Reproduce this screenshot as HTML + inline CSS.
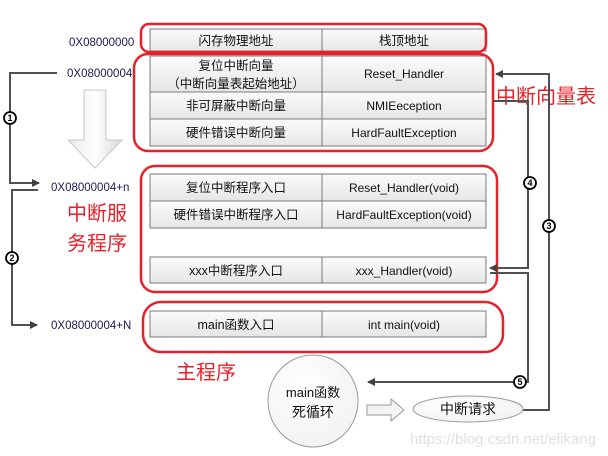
<!DOCTYPE html>
<html><head><meta charset="utf-8"><style>
body{margin:0;background:#fff;}
svg{display:block;font-family:"Liberation Sans","Noto Sans CJK SC",sans-serif;}
</style></head><body>
<svg width="608" height="456" viewBox="0 0 608 456">
<defs>
<linearGradient id="cell" x1="0" y1="0" x2="0" y2="1"><stop offset="0" stop-color="#fbfbfb"/><stop offset="1" stop-color="#e6e6e6"/></linearGradient>
<linearGradient id="arr" x1="0" y1="0" x2="1" y2="0"><stop offset="0" stop-color="#e8e8e8"/><stop offset="0.5" stop-color="#ffffff"/><stop offset="1" stop-color="#d8d8d8"/></linearGradient>
<radialGradient id="ell" cx="0.4" cy="0.35" r="0.8"><stop offset="0" stop-color="#ffffff"/><stop offset="1" stop-color="#f0f0f0"/></radialGradient>
<marker id="ah" markerWidth="8" markerHeight="8" refX="7" refY="4" orient="auto" markerUnits="userSpaceOnUse"><path d="M0,0 L8,4 L0,8 z" fill="#404040"/></marker>
</defs>
<g stroke="#7a7a7a" stroke-width="1" fill="url(#cell)">
<rect x="150" y="29" width="172" height="22"/><rect x="322" y="29" width="164" height="22"/>
<rect x="150" y="56" width="172" height="36"/><rect x="322" y="56" width="164" height="36"/>
<rect x="150" y="92" width="172" height="27"/><rect x="322" y="92" width="164" height="27"/>
<rect x="150" y="119" width="172" height="27"/><rect x="322" y="119" width="164" height="27"/>
<rect x="150" y="174" width="172" height="27"/><rect x="322" y="174" width="164" height="27"/>
<rect x="150" y="201" width="172" height="27"/><rect x="322" y="201" width="164" height="27"/>
<rect x="150" y="257" width="172" height="26"/><rect x="322" y="257" width="164" height="26"/>
<rect x="150" y="311" width="172" height="26"/><rect x="322" y="311" width="164" height="26"/>
</g>
<g font-size="12.5" fill="#111" text-anchor="middle">
<text x="236" y="45">闪存物理地址</text><text x="404" y="45">栈顶地址</text>
<text x="236" y="70">复位中断向量</text><text x="236" y="88">（中断向量表起始地址）</text>
<text x="404" y="78" font-size="12">Reset_Handler</text>
<text x="236" y="110">非可屏蔽中断向量</text><text x="404" y="110" font-size="12">NMIEeception</text>
<text x="236" y="137">硬件错误中断向量</text><text x="404" y="137" font-size="12">HardFaultException</text>
<text x="236" y="192">复位中断程序入口</text><text x="404" y="192" font-size="12">Reset_Handler(void)</text>
<text x="236" y="219">硬件错误中断程序入口</text><text x="404" y="219" font-size="12">HardFaultException(void)</text>
<text x="236" y="275">xxx中断程序入口</text><text x="404" y="275" font-size="12">xxx_Handler(void)</text>
<text x="236" y="329">main函数入口</text><text x="404" y="329" font-size="12">int main(void)</text>
</g>
<g fill="none" stroke="#e8202a" stroke-width="2.5">
<rect x="141" y="24" width="345" height="28" rx="8"/>
<rect x="134" y="54" width="359" height="97" rx="14"/>
<rect x="141" y="166" width="356" height="126" rx="14"/>
<rect x="143" y="302" width="360" height="50" rx="18"/>
</g>
<g font-size="11.5" fill="#1a1a50">
<text x="69" y="46">0X08000000</text><text x="67" y="77">0X08000004</text>
<text x="51" y="191">0X08000004+n</text><text x="51" y="329">0X08000004+N</text>
</g>
<g font-size="20" fill="#e8202a">
<text x="496" y="103">中断向量表</text>
<text x="67" y="220">中断服</text><text x="67" y="250">务程序</text>
<text x="176" y="379">主程序</text>
</g>
<path d="M84,90 L106,90 L106,140 L122,140 L95,168 L68,140 L84,140 Z" fill="url(#arr)" stroke="#c8c8c8"/>
<g fill="none" stroke="#505050" stroke-width="2">
<path d="M57,73 L10,73 L10,183 L39,183" marker-end="url(#ah)"/>
<path d="M38,190 L12,190 L12,325 L37,325" marker-end="url(#ah)"/>
<path d="M493,101 L528,101 L528,268 L490,268" marker-end="url(#ah)"/>
<path d="M523,410 L549,410 L549,74 L496,74" marker-end="url(#ah)"/>
<path d="M490,273 L528,273 L528,382 L368,382" marker-end="url(#ah)"/>
</g>
<g fill="#fff" stroke="#000" stroke-width="1.8">
<circle cx="10" cy="118" r="6"/><circle cx="12" cy="258" r="6"/><circle cx="549" cy="226" r="6"/>
<circle cx="530" cy="183" r="6"/><circle cx="520" cy="382" r="6"/>
</g>
<g font-size="9" font-weight="bold" text-anchor="middle" fill="#000">
<text x="10" y="121">1</text><text x="12" y="261">2</text><text x="549" y="229">3</text>
<text x="530" y="186">4</text><text x="520" y="385">5</text>
</g>
<ellipse cx="313" cy="401" rx="45" ry="46" fill="url(#ell)" stroke="#999"/>
<text x="313" y="397" font-size="13" text-anchor="middle" fill="#111">main函数</text>
<text x="313" y="417" font-size="14" text-anchor="middle" fill="#111">死循环</text>
<path d="M367,405 L391,405 L391,399 L404,410 L391,421 L391,415 L367,415 Z" fill="#f4f4f4" stroke="#999"/>
<ellipse cx="468" cy="409" rx="55" ry="13" fill="url(#ell)" stroke="#999"/>
<text x="468" y="414" font-size="14" text-anchor="middle" fill="#111">中断请求</text>
<text x="410" y="444" font-size="15" fill="#e0e0e0">https://blog.csdn.net/elikang</text>
</svg>
</body></html>
